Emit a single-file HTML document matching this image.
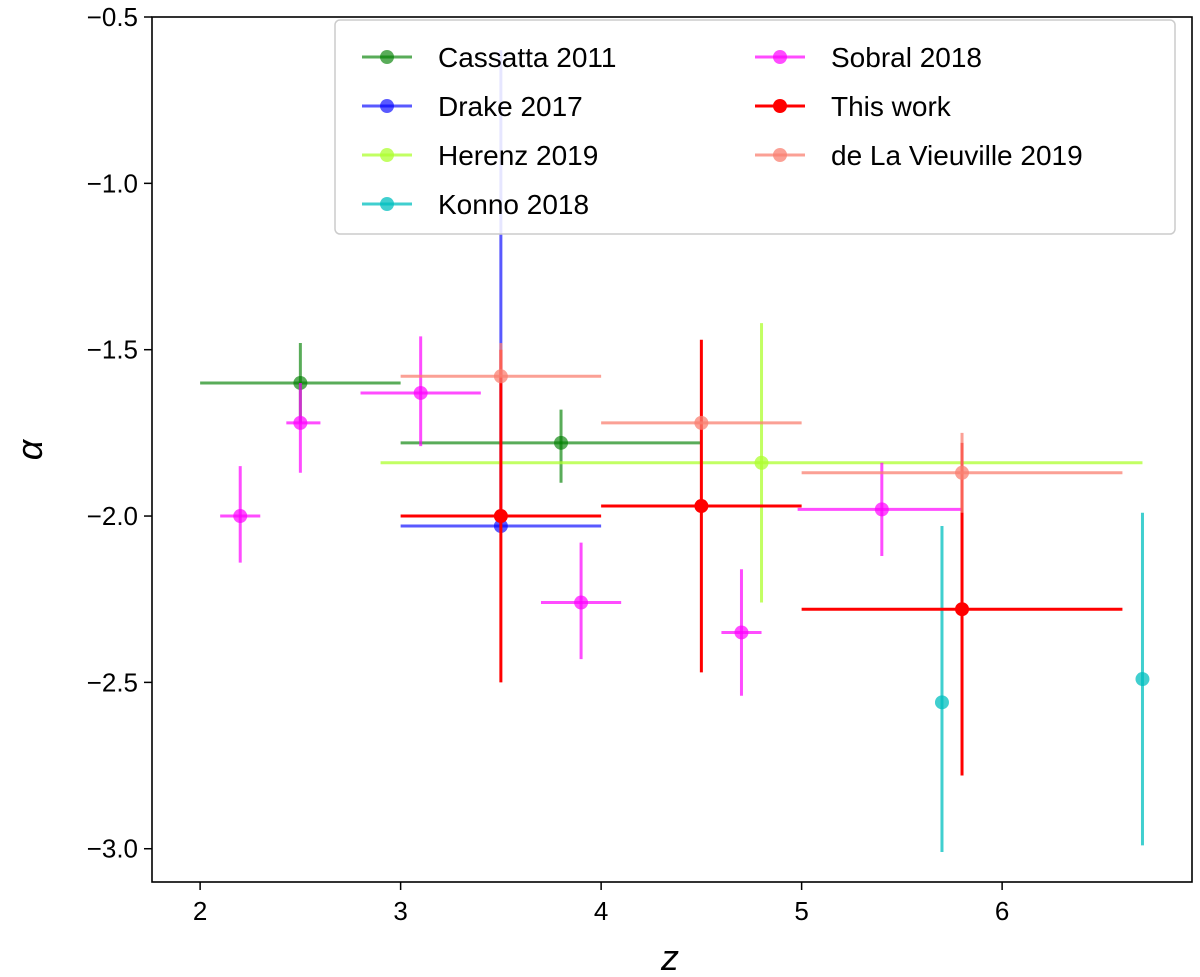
<!DOCTYPE html>
<html><head><meta charset="utf-8"><style>
body{margin:0;background:#fff;}
svg{display:block;font-family:"Liberation Sans","DejaVu Sans",sans-serif;}
</style></head><body>
<svg id="chart" width="1200" height="977">
<g id="marks"></g>
<g id="axes"></g>
<g id="legend"></g>
</svg>
<script>
const seriesNames=["Cassatta 2011","Drake 2017","Herenz 2019","Konno 2018","Sobral 2018","This work","de La Vieuville 2019"];
const seriesColors=["rgba(0,128,0,0.65)","rgba(0,0,255,0.65)","rgba(173,255,47,0.75)","rgba(0,191,191,0.75)","rgba(255,0,255,0.7)","rgba(255,0,0,1)","rgba(250,128,114,0.75)"];
// each point: [x, y, xlo, xhi, ylo, yhi]
const cassatta=[[2.5,-1.6,2.0,3.0,-1.72,-1.48],[3.8,-1.78,3.0,4.5,-1.90,-1.68]];
const drake=[[3.5,-2.03,3.0,4.0,-2.03,-0.6]];
const herenz=[[4.8,-1.84,2.9,6.7,-2.26,-1.42]];
const konno=[[5.7,-2.56,5.7,5.7,-3.01,-2.03],[6.7,-2.49,6.7,6.7,-2.99,-1.99]];
const sobral=[[2.2,-2.0,2.1,2.3,-2.14,-1.85],[2.5,-1.72,2.43,2.6,-1.87,-1.6],[3.1,-1.63,2.8,3.4,-1.79,-1.46],[3.9,-2.26,3.7,4.1,-2.43,-2.08],[4.7,-2.35,4.6,4.8,-2.54,-2.16],[5.4,-1.98,4.98,5.8,-2.12,-1.84]];
const thiswork=[[3.5,-2.0,3.0,4.0,-2.5,-1.5],[4.5,-1.97,4.0,5.0,-2.47,-1.47],[5.8,-2.28,5.0,6.6,-2.78,-1.78]];
const vieuville=[[3.5,-1.58,3.0,4.0,-1.58,-1.48],[4.5,-1.72,4.0,5.0,-1.72,-1.72],[5.8,-1.87,5.0,6.6,-1.99,-1.75]];
const allSeries=[cassatta,drake,herenz,konno,sobral,thiswork,vieuville];
const xTicks=[2,3,4,5,6];
const yTicks=[-0.5,-1.0,-1.5,-2.0,-2.5,-3.0];
const X0=152,X1=1192,Y0=17,Y1=882,xmin=1.76,xmax=6.947,ymin=-3.1,ymax=-0.5;
const sx=v=>X0+(v-xmin)/(xmax-xmin)*(X1-X0);
const sy=v=>Y1-(v-ymin)/(ymax-ymin)*(Y1-Y0);
const NS="http://www.w3.org/2000/svg";
function mk(tag,attrs,parent){const e=document.createElementNS(NS,tag);for(const k in attrs)e.setAttribute(k,attrs[k]);parent.appendChild(e);return e;}
const marks=document.getElementById('marks'),axes=document.getElementById('axes'),legend=document.getElementById('legend');
allSeries.forEach((s,i)=>{
  s.forEach((p,j)=>{
    const g=mk('g',{},marks);
    
    
    mk('line',{x1:sx(p[2]),x2:sx(p[3]),y1:sy(p[1]),y2:sy(p[1]),stroke:seriesColors[i],'stroke-width':3},g);
    mk('line',{x1:sx(p[0]),x2:sx(p[0]),y1:sy(p[4]),y2:sy(p[5]),stroke:seriesColors[i],'stroke-width':3},g);
    mk('circle',{cx:sx(p[0]),cy:sy(p[1]),r:7,fill:seriesColors[i]},g);
  });
});
const frame=mk('rect',{x:X0,y:Y0,width:X1-X0,height:Y1-Y0,fill:'none',stroke:'#000','stroke-width':1.6},axes);


xTicks.forEach(t=>{
  mk('line',{x1:sx(t),x2:sx(t),y1:Y1,y2:Y1+8,stroke:'#000','stroke-width':1.5},axes);
  const tx=mk('text',{x:sx(t),y:Y1+38,'text-anchor':'middle','font-size':26},axes);
  tx.textContent=t;
  
  
});
yTicks.forEach(t=>{
  mk('line',{x1:X0-8,x2:X0,y1:sy(t),y2:sy(t),stroke:'#000','stroke-width':1.5},axes);
  const tx=mk('text',{x:X0-14,y:sy(t)+9,'text-anchor':'end','font-size':26},axes);
  tx.textContent=t.toFixed(1).replace('-','\u2212');
  
  
});
const xl=mk('text',{x:670,y:970,'text-anchor':'middle','font-size':36,'font-style':'italic'},axes);
xl.textContent='z';


const yl=mk('text',{x:42,y:450,'text-anchor':'middle','font-size':36,'font-style':'italic',transform:'rotate(-90 42 450)'},axes);
yl.textContent='α';


const lb=mk('rect',{x:335,y:20,width:840,height:214,rx:5,fill:'rgba(255,255,255,0.85)',stroke:'#ccc','stroke-width':1.5},legend);


seriesNames.forEach((n,i)=>{
  const col=i<4?0:1,row=i<4?i:i-4;
  const x=col?755:362,y=57+row*49;
  const g=mk('g',{},legend);
  
  
  mk('line',{x1:x,x2:x+50,y1:y,y2:y,stroke:seriesColors[i],'stroke-width':3},g);
  mk('circle',{cx:x+25,cy:y,r:7,fill:seriesColors[i]},g);
  const t=mk('text',{x:x+76,y:y+10,'font-size':28},g);
  t.textContent=n;
});
</script>
</body></html>
